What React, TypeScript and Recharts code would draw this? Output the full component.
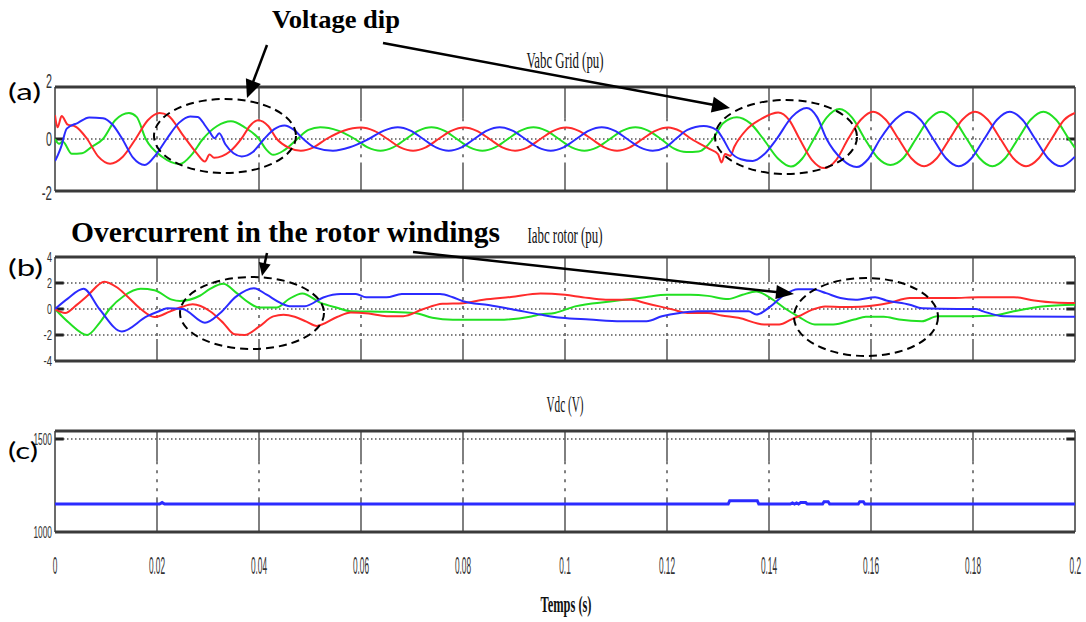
import { LineChart, Line, XAxis, YAxis, ReferenceLine } from 'recharts'

type Pt = [number, number]

// shared time axis of the three scopes
const timeTicks = [0, 0.02, 0.04, 0.06, 0.08, 0.1, 0.12, 0.14, 0.16, 0.18, 0.2]
const timeLabels = ['0', '0.02', '0.04', '0.06', '0.08', '0.1', '0.12', '0.14', '0.16', '0.18', '0.2']

const gridTicks = [-2, 0, 2]
const gridLabels = ['-2', '0', '2']
const rotorTicks = [-4, -2, 0, 2, 4]
const rotorLabels = ['-4', '-2', '0', '2', '4']
const dcTicks = [1000, 1500]
const dcLabels = ['1000', '1500']

// (a) Vabc Grid (pu) — [time s, value pu]
const gridRed: Pt[] = [
  [0, 0.92], [0.0005, 0.45], [0.0013, 0.88], [0.0025, 0.55], [0.004, 0.48], [0.0063, 0], [0.0085, -0.68],
  [0.0108, -0.95], [0.0133, -0.68], [0.0158, 0], [0.0182, 0.72], [0.0205, 1.0], [0.0222, 0.9], [0.025, 0.17],
  [0.0278, -0.55], [0.0294, -0.87], [0.0303, -0.6], [0.0312, -0.72], [0.0343, -0.48], [0.0367, 0.05],
  [0.0382, 0.5], [0.0398, 0.72], [0.0418, 0.5], [0.0435, 0], [0.0458, -0.33], [0.0482, -0.45], [0.0507, -0.32],
  [0.0532, 0], [0.0566, 0.32], [0.06, 0.44], [0.0626, 0.31], [0.0652, 0], [0.0677, -0.32], [0.0702, -0.45],
  [0.0727, -0.32], [0.0752, 0], [0.0777, 0.31], [0.0802, 0.44], [0.0827, 0.31], [0.0852, 0], [0.0877, -0.32],
  [0.0902, -0.45], [0.0927, -0.32], [0.0952, 0], [0.0977, 0.31], [0.1002, 0.44], [0.1027, 0.31], [0.1052, 0],
  [0.1077, -0.32], [0.1102, -0.45], [0.1127, -0.32], [0.1152, 0], [0.1177, 0.31], [0.1202, 0.44], [0.1226, 0.3],
  [0.1248, 0], [0.1284, -0.39], [0.13, -0.58], [0.1307, -0.9], [0.1314, -0.58], [0.1324, -0.65], [0.1332, -0.3],
  [0.1356, 0.36], [0.1382, 0.74], [0.1418, 1.02], [0.144, 0.72], [0.146, 0], [0.1484, -0.8], [0.1508, -1.12],
  [0.1532, -0.8], [0.1555, 0], [0.158, 0.74], [0.1604, 1.05], [0.1629, 0.74], [0.1654, 0], [0.1679, -0.74],
  [0.1704, -1.05], [0.1729, -0.74], [0.1754, 0], [0.1779, 0.74], [0.1804, 1.05], [0.1829, 0.74], [0.1854, 0],
  [0.1879, -0.74], [0.1904, -1.05], [0.1929, -0.74], [0.1954, 0], [0.1979, 0.74], [0.2, 1.0],
]

const gridGreen: Pt[] = [
  [0, 0], [0.0008, -0.18], [0.0015, -0.1], [0.0033, -0.57], [0.0053, -0.55], [0.0072, -0.3], [0.0094, 0],
  [0.0118, 0.72], [0.0145, 1.0], [0.016, 0.85], [0.0178, 0], [0.021, -0.68], [0.0245, -0.96], [0.0268, -0.6],
  [0.029, 0], [0.0318, 0.5], [0.0345, 0.68], [0.0372, 0.45], [0.04, 0], [0.0414, -0.4], [0.0428, -0.61],
  [0.0448, -0.45], [0.0475, 0], [0.0497, 0.35], [0.052, 0.45], [0.0555, 0.32], [0.0588, 0], [0.0613, -0.32],
  [0.0638, -0.45], [0.0663, -0.32], [0.0688, 0], [0.0713, 0.32], [0.0738, 0.45], [0.0763, 0.32], [0.0788, 0],
  [0.0813, -0.32], [0.0838, -0.45], [0.0863, -0.32], [0.0888, 0], [0.0913, 0.32], [0.0938, 0.45], [0.0963, 0.32],
  [0.0988, 0], [0.1013, -0.32], [0.1038, -0.45], [0.1063, -0.32], [0.1088, 0], [0.1113, 0.32], [0.1138, 0.45],
  [0.1163, 0.32], [0.1188, 0], [0.1213, -0.36], [0.1238, -0.5], [0.1262, -0.48], [0.129, 0], [0.131, 0.61],
  [0.1337, 0.84], [0.1363, 0.61], [0.1389, 0], [0.1418, -0.76], [0.1443, -1.06], [0.1465, -0.76], [0.1488, 0],
  [0.1513, 0.82], [0.1538, 1.15], [0.1563, 0.82], [0.1588, 0], [0.1613, -0.72], [0.1638, -1.0], [0.1663, -0.74],
  [0.1688, 0], [0.1713, 0.74], [0.1738, 1.05], [0.1763, 0.74], [0.1788, 0], [0.1813, -0.74], [0.1838, -1.05],
  [0.1863, -0.74], [0.1888, 0], [0.1913, 0.74], [0.1938, 1.05], [0.1963, 0.74], [0.1988, 0], [0.2, -0.35],
]

const gridBlue: Pt[] = [
  [0, -0.85], [0.0006, -0.6], [0.0012, -0.3], [0.0023, 0.4], [0.0045, 0.62], [0.0067, 0.83], [0.0094, 0.8],
  [0.0113, 0.55], [0.0132, 0], [0.0153, -0.72], [0.0176, -1.0], [0.0198, -0.6], [0.022, 0.03], [0.0243, 0.62],
  [0.0265, 0.87], [0.028, 0.85], [0.0295, 0.5], [0.0303, 0.28], [0.0313, 0.03], [0.0322, 0.22], [0.0334, -0.2],
  [0.035, -0.55], [0.0366, -0.67], [0.0388, -0.5], [0.041, 0], [0.043, 0.38], [0.045, 0.52], [0.0468, 0.36],
  [0.0487, 0], [0.051, -0.33], [0.0545, -0.45], [0.0578, -0.32], [0.0615, 0], [0.0645, 0.32], [0.0672, 0.45],
  [0.0697, 0.32], [0.0722, 0], [0.0747, -0.32], [0.0772, -0.45], [0.0797, -0.32], [0.0822, 0], [0.0847, 0.32],
  [0.0872, 0.45], [0.0897, 0.32], [0.0922, 0], [0.0947, -0.32], [0.0972, -0.45], [0.0997, -0.32], [0.1022, 0],
  [0.1047, 0.32], [0.1072, 0.45], [0.1097, 0.32], [0.1122, 0], [0.1147, -0.32], [0.1172, -0.45], [0.1197, -0.32],
  [0.1217, 0], [0.124, 0.35], [0.1272, 0.5], [0.1297, 0.35], [0.131, 0], [0.1324, -0.48], [0.1345, -0.78],
  [0.1368, -0.85], [0.139, -0.6], [0.1415, 0], [0.1445, 0.85], [0.1474, 1.19], [0.1494, 0.85], [0.1513, 0],
  [0.1543, -0.78], [0.1572, -1.08], [0.1595, -0.76], [0.1618, 0], [0.1647, 0.74], [0.1672, 1.05], [0.1697, 0.74],
  [0.1722, 0], [0.1747, -0.74], [0.1772, -1.05], [0.1797, -0.74], [0.1822, 0], [0.1847, 0.74], [0.1872, 1.05],
  [0.1897, 0.74], [0.1922, 0], [0.1947, -0.74], [0.1972, -1.05], [0.2, -0.68],
]

// (b) Iabc rotor (pu)
const rotorRed: Pt[] = [
  [0, 0], [0.002, -0.3], [0.0042, 0.3], [0.0063, 1.0], [0.0097, 2.1], [0.0122, 1.65], [0.0141, 1.0], [0.0168, 0],
  [0.0195, -0.62], [0.0225, -0.2], [0.0248, 0.15], [0.027, 0.36], [0.0304, -0.17], [0.033, -1.07], [0.0352, -1.95],
  [0.0372, -2.0], [0.04, -1.36], [0.0428, -0.57], [0.0448, -0.45], [0.047, -0.6], [0.0493, -0.97], [0.0513, -1.3],
  [0.0553, -0.62], [0.058, -0.27], [0.0615, -0.35], [0.065, -0.55], [0.0683, -0.55], [0.072, -0.04], [0.076, 0.4],
  [0.08, 0.45], [0.084, 0.72], [0.0894, 0.93], [0.0952, 1.2], [0.1, 1.09], [0.1034, 0.91], [0.108, 0.71],
  [0.113, 0.71], [0.1157, 0.46], [0.1185, 0.2], [0.1212, -0.05], [0.124, -0.3], [0.128, -0.3], [0.1307, -0.5],
  [0.134, -0.68], [0.139, -1.19], [0.142, -1.19], [0.1444, -0.8], [0.1458, -0.56], [0.1485, -0.05], [0.151, 0.2],
  [0.1545, 0.15], [0.158, 0.18], [0.1635, 0.46], [0.1676, 0.84], [0.176, 0.84], [0.181, 0.91], [0.188, 0.91],
  [0.192, 0.66], [0.196, 0.5], [0.2, 0.46],
]

const rotorGreen: Pt[] = [
  [0, 0], [0.0028, -1.08], [0.0063, -2.0], [0.0087, -1.08], [0.0107, 0], [0.0135, 1.0], [0.0168, 1.55],
  [0.0195, 1.45], [0.0229, 0.72], [0.0245, 0.62], [0.0284, 1.02], [0.0304, 1.55], [0.033, 1.94], [0.0357, 1.2],
  [0.038, 0.49], [0.04, 0.12], [0.0435, 0.12], [0.0458, 0.75], [0.0485, 1.2], [0.052, 0.49], [0.0553, 0.1],
  [0.058, -0.17], [0.065, -0.22], [0.0705, -0.3], [0.074, -0.68], [0.078, -0.83], [0.087, -0.83], [0.0934, -0.57],
  [0.0952, -0.43], [0.098, -0.3], [0.102, 0.2], [0.1089, 0.58], [0.1157, 0.91], [0.12, 1.09], [0.1246, 1.09],
  [0.128, 1.01], [0.132, 0.76], [0.1348, 1.09], [0.1375, 1.34], [0.1403, 0.84], [0.143, 0.08], [0.1457, -0.56],
  [0.149, -1.19], [0.1526, -1.19], [0.1567, -0.81], [0.159, -0.6], [0.1625, -0.6], [0.1655, -0.81], [0.17, -0.94],
  [0.173, -0.56], [0.18, -0.56], [0.184, -0.5], [0.188, -0.18], [0.1935, 0.2], [0.2, 0.33],
]

const rotorBlue: Pt[] = [
  [0, 0], [0.0025, 0.8], [0.0056, 1.55], [0.0087, 0], [0.0131, -1.73], [0.018, -0.57], [0.0205, -0.15],
  [0.022, 0.05], [0.025, 0], [0.0294, -1.05], [0.0324, -0.3], [0.0355, 0.95], [0.039, 1.6], [0.0415, 1.1],
  [0.0441, 0.49], [0.046, 0.22], [0.049, 0.22], [0.0526, 0.89], [0.056, 1.15], [0.059, 1.15], [0.061, 0.9],
  [0.065, 0.9], [0.068, 1.15], [0.0755, 1.15], [0.078, 0.9], [0.08, 0.6], [0.085, 0.3], [0.09, -0.05],
  [0.0952, -0.43], [0.0993, -0.68], [0.1048, -0.81], [0.111, -0.94], [0.116, -0.94], [0.119, -0.56],
  [0.1225, -0.3], [0.126, -0.18], [0.136, -0.18], [0.1375, -0.43], [0.1403, 0.2], [0.143, 1.09], [0.1457, 1.52],
  [0.1485, 1.52], [0.1512, 1.22], [0.154, 0.84], [0.157, 0.71], [0.1608, 0.91], [0.163, 0.66], [0.1676, 0.33],
  [0.17, 0.05], [0.177, 0], [0.1805, 0], [0.182, -0.18], [0.186, -0.56], [0.2, -0.6],
]

// (c) Vdc (V)
const vdc: Pt[] = [
  [0, 1150], [0.0205, 1150], [0.021, 1158], [0.0215, 1150], [0.132, 1150], [0.1323, 1168], [0.1377, 1168],
  [0.138, 1150], [0.1442, 1150], [0.1446, 1156], [0.145, 1150], [0.1454, 1156], [0.1458, 1150], [0.1462, 1158],
  [0.1472, 1158], [0.1475, 1150], [0.1505, 1150], [0.1508, 1163], [0.1516, 1163], [0.1519, 1150], [0.1575, 1150],
  [0.1578, 1163], [0.1585, 1163], [0.1588, 1150], [0.2, 1150],
]

const RED = '#ff2b2b'
const GREEN = '#22e022'
const BLUE = '#2b2bff'
const INK = '#333'

const pts = (p: Pt[]) => p.map(([t, v]) => ({ t, v }))

// narrow scope-style digits: approx widths per glyph
const textWidth = (s: string, digit: number) =>
  s.split('').reduce((w, c) => w + (c === '.' ? digit * 0.5 : c === '1' || c === '-' ? digit * 0.7 : digit), 0)

const yTick = (ticks: number[], labels: string[], fontSize: number, digit: number, topShift = 0, botShift = 0) =>
  (props: any) => {
    const { y, payload } = props
    const i = ticks.indexOf(payload.value)
    const label = labels[i] ?? String(payload.value)
    const shift = i === ticks.length - 1 ? topShift : i === 0 ? botShift : 0
    return (
      <text x={52} y={y + shift} dy={fontSize * 0.36} textAnchor="end" fontFamily="Liberation Sans" fontSize={fontSize}
        fill={INK} textLength={textWidth(label, digit)} lengthAdjust="spacingAndGlyphs">{label}</text>
    )
  }

const TimeTick = (props: any) => {
  const { x, payload } = props
  const i = timeTicks.indexOf(payload.value)
  const label = timeLabels[i] ?? String(payload.value)
  const last = i === timeTicks.length - 1
  return (
    <g transform={`translate(${last ? x + 6 : x},160) scale(0.36,1)`}>
      <text x={0} y={0} textAnchor={last ? 'end' : 'middle'} fontFamily="Liberation Sans" fontSize={23} fill={INK}>{label}</text>
    </g>
  )
}

// box of the scope: thick top/bottom, thin sides
const frame = (lo: number, hi: number) => [
  <ReferenceLine key="ft" y={hi} stroke="#3a3a3a" strokeWidth={3} ifOverflow="visible" />,
  <ReferenceLine key="fb" y={lo} stroke="#3a3a3a" strokeWidth={3} ifOverflow="visible" />,
  <ReferenceLine key="fl" x={0} stroke="#3a3a3a" strokeWidth={1.5} ifOverflow="visible" />,
  <ReferenceLine key="fr" x={0.2} stroke="#3a3a3a" strokeWidth={1.5} ifOverflow="visible" />,
]

// vertical grid: solid near the edges, dashed in the middle
const vGrid = (hi: number, a: number, b: number, lo: number) =>
  timeTicks.slice(1, -1).flatMap((t) => [
    <ReferenceLine key={`g1${t}`} segment={[{ x: t, y: hi }, { x: t, y: a }]} stroke="#2b2b2b" strokeWidth={1.2} ifOverflow="visible" />,
    <ReferenceLine key={`g2${t}`} segment={[{ x: t, y: a }, { x: t, y: b }]} stroke="#2b2b2b" strokeWidth={1.2} strokeDasharray="3 6" ifOverflow="visible" />,
    <ReferenceLine key={`g3${t}`} segment={[{ x: t, y: b }, { x: t, y: lo }]} stroke="#2b2b2b" strokeWidth={1.2} ifOverflow="visible" />,
  ])

// dotted horizontal levels with short marks at both edges
const levels = (vals: number[]) =>
  vals.flatMap((v) => [
    <ReferenceLine key={`d${v}`} y={v} stroke="#555" strokeWidth={1.5} strokeDasharray="1.5 2.5" ifOverflow="visible" />,
    <ReferenceLine key={`l${v}`} segment={[{ x: 0, y: v }, { x: 0.0017, y: v }]} stroke="#222" strokeWidth={3} ifOverflow="visible" />,
    <ReferenceLine key={`r${v}`} segment={[{ x: 0.1983, y: v }, { x: 0.2, y: v }]} stroke="#222" strokeWidth={3} ifOverflow="visible" />,
  ])

const phase = (key: string, data: Pt[], color: string, type: 'monotone' | 'linear', width = 2) => (
  <Line key={key} data={pts(data)} dataKey="v" type={type} stroke={color} strokeWidth={width}
    dot={false} activeDot={false} isAnimationActive={false} />
)

const arrow = (x1: number, y1: number, x2: number, y2: number, len: number, half: number, w = 2.5) => {
  const dx = x2 - x1
  const dy = y2 - y1
  const d = Math.hypot(dx, dy)
  const ux = dx / d
  const uy = dy / d
  const bx = x2 - ux * len
  const by = y2 - uy * len
  const head = `${x2},${y2} ${bx - uy * half},${by + ux * half} ${bx + uy * half},${by - ux * half}`
  return (
    <g>
      <line x1={x1} y1={y1} x2={bx + ux * 2} y2={by + uy * 2} stroke="#000" strokeWidth={w} />
      <polygon points={head} fill="#000" />
    </g>
  )
}

const margin = { top: 17, right: 11, bottom: 19, left: 15 }

export default function App() {
  return (
    <div style={{ position: 'absolute', left: 0, top: 0, width: 1086, height: 622, background: '#fff', overflow: 'hidden' }}>
      <div style={{ position: 'absolute', left: 0, top: 70 }}>
        <LineChart width={1086} height={140} margin={margin}>
          <XAxis type="number" dataKey="t" domain={[0, 0.2]} ticks={timeTicks} allowDataOverflow hide />
          <YAxis type="number" domain={[-2, 2]} ticks={gridTicks} allowDataOverflow width={40} axisLine={false}
            tickLine={false} interval={0} tick={yTick(gridTicks, gridLabels, 20, 6, -6, 2)} />
          {vGrid(2, 0.8, -0.9, -2)}
          {levels([0])}
          {frame(-2, 2)}
          {phase('g', gridGreen, GREEN, 'monotone')}
          {phase('r', gridRed, RED, 'monotone')}
          {phase('b', gridBlue, BLUE, 'monotone')}
        </LineChart>
      </div>

      <div style={{ position: 'absolute', left: 0, top: 240 }}>
        <LineChart width={1086} height={140} margin={margin}>
          <XAxis type="number" dataKey="t" domain={[0, 0.2]} ticks={timeTicks} allowDataOverflow hide />
          <YAxis type="number" domain={[-4, 4]} ticks={rotorTicks} allowDataOverflow width={40} axisLine={false}
            tickLine={false} interval={0} tick={yTick(rotorTicks, rotorLabels, 15, 5)} />
          {vGrid(4, 2.3, -2.3, -4)}
          {levels([2, 0, -2])}
          {frame(-4, 4)}
          {phase('g', rotorGreen, GREEN, 'monotone')}
          {phase('r', rotorRed, RED, 'monotone')}
          {phase('b', rotorBlue, BLUE, 'monotone')}
        </LineChart>
      </div>

      <div style={{ position: 'absolute', left: 0, top: 414 }}>
        <LineChart width={1086} height={208} margin={{ top: 17, right: 11, bottom: 30, left: 15 }}>
          <XAxis type="number" dataKey="t" domain={[0, 0.2]} ticks={timeTicks} allowDataOverflow interval={0}
            height={60} axisLine={false} tickLine={false} tick={TimeTick} />
          <YAxis type="number" domain={[1000, 1543]} ticks={dcTicks} allowDataOverflow width={40} axisLine={false}
            tickLine={false} interval={0} tick={yTick(dcTicks, dcLabels, 17, 5)} />
          {vGrid(1543, 1380, 1185, 1000)}
          {levels([1500])}
          {frame(1000, 1543)}
          {phase('vdc', vdc, BLUE, 'linear', 3)}
        </LineChart>
      </div>

      <svg width={1086} height={622} style={{ position: 'absolute', left: 0, top: 0, pointerEvents: 'none' }}>
        <g fontFamily="Liberation Serif" fill="#111">
          <text x={565} y={68} textAnchor="middle" fontSize={24} textLength={77} lengthAdjust="spacingAndGlyphs">Vabc Grid (pu)</text>
          <text x={565} y={243} textAnchor="middle" fontSize={24} textLength={75} lengthAdjust="spacingAndGlyphs">Iabc rotor (pu)</text>
          <text x={565} y={412} textAnchor="middle" fontSize={24} textLength={37} lengthAdjust="spacingAndGlyphs">Vdc (V)</text>
          <text x={566} y={612} textAnchor="middle" fontSize={24} fontWeight="bold" textLength={51} lengthAdjust="spacingAndGlyphs">Temps (s)</text>
          <text x={272} y={28} fontSize={26} fontWeight="bold" fill="#000" textLength={128} lengthAdjust="spacingAndGlyphs">Voltage dip</text>
          <text x={71} y={242} fontSize={29} fontWeight="bold" fill="#000" textLength={429} lengthAdjust="spacingAndGlyphs">Overcurrent in the rotor windings</text>
        </g>
        <g fontFamily="Lato" fontSize={24} fill="#000">
          <text x={8} y={100} textLength={33} lengthAdjust="spacingAndGlyphs">(a)</text>
          <text x={8} y={276} textLength={35} lengthAdjust="spacingAndGlyphs">(b)</text>
          <text x={8} y={459} textLength={30} lengthAdjust="spacingAndGlyphs">(c)</text>
        </g>
        <g fill="none" stroke="#000" strokeWidth={2} strokeDasharray="8 5">
          <ellipse cx={225} cy={136} rx={71} ry={37} />
          <ellipse cx={786} cy={137} rx={71} ry={37} />
          <ellipse cx={252} cy={313} rx={72} ry={36} />
          <ellipse cx={866} cy={317} rx={72} ry={39} />
        </g>
        {arrow(267, 45, 247, 98, 18, 8)}
        {arrow(383, 43, 730, 108, 18, 8)}
        {arrow(267, 253, 262, 276, 13, 6)}
        {arrow(413, 252, 794, 294, 18, 7)}
      </svg>
    </div>
  )
}
